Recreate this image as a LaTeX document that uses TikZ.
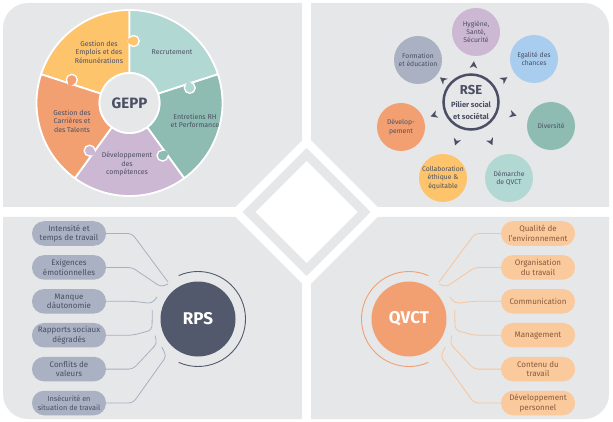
\documentclass[tikz,border=0pt]{standalone}
\usepackage{fontspec}
\setmainfont{Fira Sans}
\usetikzlibrary{calc,decorations.markings}

\definecolor{panel}{RGB}{230,231,233}
\definecolor{ink}{RGB}{74,79,99}
\definecolor{cyel}{RGB}{253,196,108}
\definecolor{cteal}{RGB}{178,216,211}
\definecolor{cgreen}{RGB}{143,188,178}
\definecolor{cpurp}{RGB}{205,184,211}
\definecolor{corng}{RGB}{242,160,114}
\definecolor{cblue}{RGB}{169,205,239}
\definecolor{cslate}{RGB}{169,177,194}
\definecolor{rpsdark}{RGB}{83,89,108}
\definecolor{qpill}{RGB}{250,201,156}
\definecolor{qline}{RGB}{248,196,154}
\definecolor{qtext}{RGB}{138,90,62}
\definecolor{rline}{RGB}{168,176,192}

\newcommand\gpiece[3]{\filldraw[fill=#3, draw=white, line width=1.8pt, line join=round]
  ($(G)+(#1:93)$) arc[start angle=#1, end angle=#2, radius=93] -- ($(G)+(#2:30)$)
  arc[start angle=#2, end angle=#1, radius=30] -- cycle;}
\newcommand\gknob[2]{%
  \filldraw[fill=#2, draw=white, line width=1.3pt] ($(G)+(#1:62)+({#1+90}:4.2)$) circle[radius=5.5];
  \fill[#2] ($(G)+(#1:62)+({#1+90}:1.2)$) circle[radius=3.2];}

\begin{document}
\begin{tikzpicture}[x=1pt,y=-1pt,
  gtxt/.style={font=\fontsize{7}{8.5}\selectfont, text=ink, align=center, inner sep=0pt},
  sat/.style={circle, minimum size=48pt, inner sep=0pt, text=ink, align=center,
    font=\fontsize{6.8}{8.3}\selectfont},
  pill/.style={rounded corners=12pt, minimum width=74pt, minimum height=24.5pt, inner sep=0pt,
    align=center, font=\fontsize{8}{9.5}\selectfont},
  rpill/.style={pill, fill=cslate, text=ink},
  qpillst/.style={pill, fill=qpill, text=qtext},
  rlink/.style={draw=rline, line width=0.8pt, rounded corners=4pt},
  qlink/.style={draw=qline, line width=0.8pt, rounded corners=4pt},
  rsearrow/.style={decoration={markings, mark=at position 0.5 with
    {\fill[ink] (3.5pt,0pt) -- (-3.5pt,3.8pt) -- (-1.4pt,0pt) -- (-3.5pt,-3.8pt) -- cycle;}},
    postaction={decorate}}
]
\useasboundingbox (0,0) rectangle (613,422);

% panels
\fill[panel] (3,207) -- (3,28) arc[start angle=180, end angle=270, radius=25] -- (302,3) -- (302,207) -- cycle;
\fill[panel] (311,3) -- (584,3) arc[start angle=270, end angle=360, radius=25] -- (609,207) -- (311,207) -- cycle;
\fill[panel] (3,217) -- (302,217) -- (302,419) -- (28,419) arc[start angle=90, end angle=180, radius=25] -- cycle;
\fill[panel] (311,217) -- (609,217) -- (609,394) arc[start angle=0, end angle=90, radius=25] -- (311,419) -- cycle;

% central diamond
\fill[white] (306.5,136) -- (382.5,212) -- (306.5,288) -- (230.5,212) -- cycle;
\fill[panel] (306.5,148) -- (370.5,212) -- (306.5,276) -- (242.5,212) -- cycle;
\fill[white] (306.5,161) -- (357.5,212) -- (306.5,263) -- (255.5,212) -- cycle;

% GEPP wheel
\coordinate (G) at (129.5,103);
\gpiece{-162}{-90}{cyel}
\gpiece{-90}{-18}{cteal}
\gpiece{-18}{54}{cgreen}
\gpiece{54}{126}{cpurp}
\gpiece{126}{198}{corng}
\gknob{-90}{cyel}
\gknob{-18}{cteal}
\gknob{54}{cgreen}
\gknob{126}{cpurp}
\gknob{198}{corng}
\node[circle, fill=panel, draw=white, line width=1.8pt, minimum size=60pt, inner sep=0pt,
  text=ink, font=\bfseries\fontsize{15}{15}\selectfont] (gepp) at (G) {GEPP};
\node[gtxt] (g1) at (99,52) {Gestion des\\Emplois et des\\Rémunérations};
\node[gtxt] (g2) at (172,52) {Recrutement};
\node[gtxt] (g3) at (195,121) {Entretiens RH\\et Performance};
\node[gtxt] (g4) at (127,164) {Développement\\des\\compétences};
\node[gtxt] (g5) at (72,121) {Gestion des\\Carrières et\\des Talents};

% RSE
\node[circle, draw=ink, line width=2.5pt, minimum size=55pt, inner sep=0pt, align=center,
  text=ink, font=\bfseries] (rse) at (471,102)
  {{\fontsize{13}{14}\selectfont RSE}\\[1pt]{\fontsize{7.5}{9}\selectfont Pilier social}\\{\fontsize{7.5}{9}\selectfont et sociétal}};
\node[sat, fill=cpurp] (s1) at (476,32) {Hygiène,\\Santé,\\Sécurité};
\node[sat, fill=cblue] (s2) at (534,59) {Egalité des\\chances};
\node[sat, fill=cgreen] (s3) at (551,126) {Diversité};
\node[sat, fill=cteal] (s4) at (509,178) {Démarche\\de QVCT};
\node[sat, fill=cyel] (s5) at (443,178) {Collaboration\\éthique \&\\équitable};
\node[sat, fill=corng] (s6) at (401,127) {Dévelop-\\pement};
\node[sat, fill=cslate] (s7) at (418,60) {Formation\\et éducation};
\foreach \s in {s1,s2,s3,s4,s5,s6,s7} \path[rsearrow] (rse) -- (\s);

% RPS
\node[circle, fill=rpsdark, minimum size=75pt, inner sep=0pt, text=white,
  font=\bfseries\fontsize{17}{17}\selectfont] (rps) at (198,319) {RPS};
\draw[rpsdark, line width=0.9pt] ($(rps.center)+(-114:47.5)$) arc[start angle=-114, end angle=114, radius=47.5];
\node[rpill] (p1) at (69,233.5) {Intensité et\\temps de travail};
\node[rpill] (p2) at (69,267.4) {Exigences\\émotionnelles};
\node[rpill] (p3) at (69,301.3) {Manque\\dàutonomie};
\node[rpill] (p4) at (69,335.2) {Rapports sociaux\\dégradés};
\node[rpill] (p5) at (69,369.1) {Conflits de\\valeurs};
\node[rpill, font=\fontsize{7.3}{9}\selectfont] (p6) at (69,403.0) {Insécurité en\\situation de travail};
\coordinate (r1) at (168,282);
\coordinate (r2) at (168,284);
\coordinate (r3) at (157,297);
\coordinate (r4) at (152.3,310);
\coordinate (r5) at (155,335.5);
\coordinate (r6) at (161.7,347);
\draw[rlink] (p1.east) -- (132,233.5) -- (r1);
\draw[rlink] (p2.east) -- (132,267.4) -- (161,287) -- (r2);
\draw[rlink] (p3.east) -- (133,301.3) -- (152,303.5) -- (r3);
\draw[rlink] (p4.east) -- (133,335.2) -- (152,330) -- (r4);
\draw[rlink] (p5.east) -- (133,369.1) -- (157,343.5) -- (r5);
\draw[rlink] (p6.east) -- (133,403.0) -- (166.5,356) -- (r6);

% QVCT
\node[circle, fill=corng, minimum size=75pt, inner sep=0pt, text=white,
  font=\bfseries\fontsize{17}{17}\selectfont] (qvct) at (409,319) {QVCT};
\draw[corng, line width=0.9pt] ($(qvct.center)+(66:47.5)$) arc[start angle=66, end angle=294, radius=47.5];
\node[qpillst] (q1) at (538,233.5) {Qualité de\\l'environnement};
\node[qpillst] (q2) at (538,267.4) {Organisation\\du travail};
\node[qpillst] (q3) at (538,301.3) {Communication};
\node[qpillst] (q4) at (538,335.2) {Management};
\node[qpillst] (q5) at (538,369.1) {Contenu du\\travail};
\node[qpillst] (q6) at (538,403.0) {Développement\\personnel};
\coordinate (e1) at (439,282);
\coordinate (e2) at (439,284);
\coordinate (e3) at (450,297);
\coordinate (e4) at (454.7,310);
\coordinate (e5) at (452,335.5);
\coordinate (e6) at (445.3,347);
\draw[qlink] (q1.west) -- (475,233.5) -- (e1);
\draw[qlink] (q2.west) -- (475,267.4) -- (446,287) -- (e2);
\draw[qlink] (q3.west) -- (474,301.3) -- (455,303.5) -- (e3);
\draw[qlink] (q4.west) -- (474,335.2) -- (455,330) -- (e4);
\draw[qlink] (q5.west) -- (474,369.1) -- (450,343.5) -- (e5);
\draw[qlink] (q6.west) -- (474,403.0) -- (440.5,356) -- (e6);
\end{tikzpicture}
\end{document}
